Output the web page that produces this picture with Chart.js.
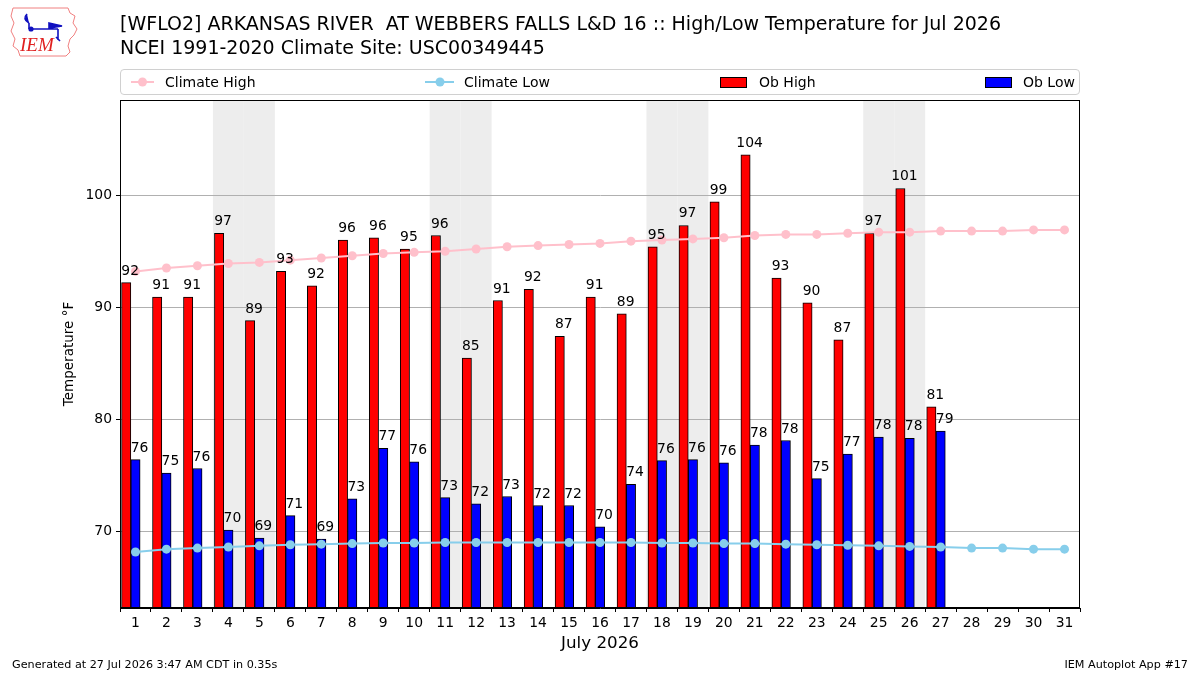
<!DOCTYPE html>
<html>
<head>
<meta charset="utf-8">
<script src="https://cdn.jsdelivr.net/npm/chart.js@4/dist/chart.umd.min.js"></script>
<style>
  html, body { margin: 0; padding: 0; background: #fff; }
  #wrap { position: relative; width: 1200px; height: 675px; overflow: hidden; font-family: "DejaVu Sans", sans-serif; color: #000; }
  #c { position: absolute; left: 0; top: 0; }
  .t { position: absolute; white-space: pre; line-height: 1; }
  #legend { position: absolute; left: 120px; top: 69px; width: 958px; height: 24px; border: 1px solid #d0d0d0; border-radius: 4px; background: #fff; }
  .li { position: absolute; top: 0; height: 24px; font-size: 14px; line-height: 24px; white-space: pre; }
</style>
</head>
<body>
<div id="wrap">
  <canvas id="c" width="1200" height="675"></canvas>
  <svg style="position:absolute;left:8px;top:4px" width="74" height="56" viewBox="0 0 74 56">
    <path d="M5 4 L60 4 L62 9 L67 12 L65 19 L69 25 L66 31 L62 35 L60 42 L62 48 L58 52 L12 52 L10 46 L5 42 L7 35 L3 27 L6 19 L3 12 Z" fill="none" stroke="#f08080" stroke-width="1"/>
    <path d="M19 10 q-5 5 2 9 M21 19 L21 25 M21 25 L50 25 M41 19 L54 22 L41 24 Z M50 25 L50 36 M48 33 L52 37" stroke="#1010c0" stroke-width="1.6" fill="#1010c0"/>
    <circle cx="23" cy="25" r="2.6" fill="#1010c0"/>
    <text x="12" y="47" font-family="Liberation Serif, serif" font-style="italic" font-size="19" fill="#e02020">IEM</text>
  </svg>
  <div class="t" style="left:120px;top:14px;font-size:19px;">[WFLO2] ARKANSAS RIVER  AT WEBBERS FALLS L&amp;D 16 :: High/Low Temperature for Jul 2026</div>
  <div class="t" style="left:120px;top:38px;font-size:19px;">NCEI 1991-2020 Climate Site: USC00349445</div>
  <div id="legend">
    <div class="li" style="left:10px;"><svg width="24" height="24" style="vertical-align:top"><line x1="0" y1="12" x2="23" y2="12" stroke="#FFC0CB" stroke-width="2"/><circle cx="11.5" cy="12" r="4.5" fill="#FFC0CB"/></svg></div>
    <div class="li" style="left:44px;">Climate High</div>
    <div class="li" style="left:304px;"><svg width="30" height="24" style="vertical-align:top"><line x1="0" y1="12" x2="29" y2="12" stroke="#87CEEB" stroke-width="2"/><circle cx="15" cy="12" r="4.5" fill="#87CEEB"/></svg></div>
    <div class="li" style="left:343px;">Climate Low</div>
    <div class="li" style="left:599px;"><svg width="28" height="24" style="vertical-align:top"><rect x="0.5" y="7.5" width="26" height="10" fill="#ff0000" stroke="#000" stroke-width="1"/></svg></div>
    <div class="li" style="left:638px;">Ob High</div>
    <div class="li" style="left:864px;"><svg width="28" height="24" style="vertical-align:top"><rect x="0.5" y="7.5" width="26" height="10" fill="#0000ff" stroke="#000" stroke-width="1"/></svg></div>
    <div class="li" style="left:902px;">Ob Low</div>
  </div>
  <div class="t" style="left:12px;top:659px;font-size:11.2px;">Generated at 27 Jul 2026 3:47 AM CDT in 0.35s</div>
  <div class="t" style="right:12px;top:659px;font-size:11.2px;">IEM Autoplot App #17</div>
</div>
<script>
const days = Array.from({length: 31}, (_, i) => i + 1);
const obsDays = days.slice(0, 27);
const obHigh = [92.2, 90.9, 90.9, 96.6, 88.8, 93.2, 91.9, 96.0, 96.2, 95.2, 96.4, 85.45, 90.6, 91.6, 87.4, 90.9, 89.4, 95.4, 97.3, 99.4, 103.6, 92.6, 90.4, 87.1, 96.6, 100.6, 81.1];
const obLow = [76.4, 75.2, 75.6, 70.1, 69.4, 71.4, 69.3, 72.9, 77.4, 76.2, 73.0, 72.45, 73.1, 72.3, 72.3, 70.4, 74.2, 76.3, 76.4, 76.1, 77.7, 78.1, 74.7, 76.9, 78.4, 78.3, 78.95];
const climateHigh = [93.2, 93.5, 93.7, 93.9, 94.0, 94.2, 94.4, 94.6, 94.8, 94.9, 95.0, 95.2, 95.4, 95.5, 95.6, 95.7, 95.9, 96.0, 96.1, 96.2, 96.4, 96.5, 96.5, 96.6, 96.7, 96.7, 96.8, 96.8, 96.8, 96.9, 96.9];
const climateLow = [68.15, 68.4, 68.5, 68.6, 68.7, 68.8, 68.85, 68.9, 68.95, 68.95, 69.0, 69.0, 69.0, 69.0, 69.0, 69.0, 69.0, 68.95, 68.95, 68.9, 68.9, 68.85, 68.8, 68.75, 68.7, 68.65, 68.6, 68.5, 68.5, 68.4, 68.4];
const yTicks = [70, 80, 90, 100];
const monthIndex = 6, year = 2026;

const HIGH_SHIFT = -0.3;
const FONT = '"DejaVu Sans", sans-serif';

const shadePlugin = {
  id: 'shade',
  beforeDraw(chart) {
    const {ctx, chartArea: a, scales: {x}} = chart;
    ctx.save();
    ctx.fillStyle = '#fff';
    ctx.fillRect(0, 0, chart.width, chart.height);
    ctx.fillStyle = '#ededed';
    days.forEach(d => {
      const wd = new Date(year, monthIndex, d).getDay();
      if (wd === 0 || wd === 6) {
        const x0 = x.getPixelForValue(d - 0.5), x1 = x.getPixelForValue(d + 0.5);
        ctx.fillRect(x0, a.top, x1 - x0, a.bottom - a.top);
      }
    });
    ctx.restore();
  },
  afterDatasetsDraw(chart) {
    const {ctx, chartArea: a} = chart;
    ctx.save();
    ctx.fillStyle = '#000';
    ctx.font = '13.9px ' + FONT;
    ctx.textAlign = 'center';
    ctx.textBaseline = 'alphabetic';
    [0, 1].forEach(di => {
      const meta = chart.getDatasetMeta(di);
      const vals = chart.data.datasets[di].data;
      meta.data.forEach((el, i) => {
        ctx.fillText(String(Math.round(vals[i].y)), el.x + 4, el.y - 8);
      });
    });
    ctx.strokeStyle = '#000';
    ctx.lineWidth = 1;
    ctx.strokeRect(Math.round(a.left) + 0.5, Math.round(a.top) + 0.5, Math.round(a.right - a.left) - 1, Math.round(a.bottom - a.top) - 1);
    ctx.restore();
  }
};

new Chart(document.getElementById('c'), {
  type: 'bar',
  data: {
    datasets: [
      {
        type: 'bar', label: 'Ob High', order: 2,
        data: obsDays.map((d, i) => ({x: d + HIGH_SHIFT, y: obHigh[i]})),
        backgroundColor: '#ff0000', borderColor: '#000', borderWidth: 1,
        grouped: false, barThickness: 9.3, base: 60
      },
      {
        type: 'bar', label: 'Ob Low', order: 2,
        data: obsDays.map((d, i) => ({x: d, y: obLow[i]})),
        backgroundColor: '#0000ff', borderColor: '#000', borderWidth: 1,
        grouped: false, barThickness: 9.3, base: 60
      },
      {
        type: 'line', label: 'Climate High', order: 0,
        data: days.map((d, i) => ({x: d, y: climateHigh[i]})),
        borderColor: '#FFC0CB', backgroundColor: '#FFC0CB', borderWidth: 2,
        pointRadius: 4.5, pointBorderWidth: 0, pointBackgroundColor: '#FFC0CB', tension: 0
      },
      {
        type: 'line', label: 'Climate Low', order: 0,
        data: days.map((d, i) => ({x: d, y: climateLow[i]})),
        borderColor: '#87CEEB', backgroundColor: '#87CEEB', borderWidth: 2,
        pointRadius: 4.5, pointBorderWidth: 0, pointBackgroundColor: '#87CEEB', tension: 0
      }
    ]
  },
  options: {
    responsive: false,
    animation: false,
    devicePixelRatio: 1,
    layout: { padding: { top: 100, right: 120, left: 0, bottom: 0 } },
    plugins: { legend: { display: false }, tooltip: { enabled: false }, title: { display: false } },
    scales: {
      x: {
        type: 'linear', min: 0.5, max: 31.5, offset: false,
        afterBuildTicks: s => { s.ticks = days.map(v => ({value: v})); },
        afterFit: s => { s.height = 67; },
        grid: { display: true, drawOnChartArea: false, drawTicks: true, tickLength: 4, tickColor: '#000' },
        border: { display: true, color: '#000', width: 1 },
        ticks: { color: '#000', font: { family: FONT, size: 13.9 }, padding: 3, maxRotation: 0, autoSkip: false, callback: v => String(v) },
        title: { display: true, text: 'July 2026', color: '#000', font: { family: FONT, size: 16.7 }, padding: { top: 4, bottom: 21 } }
      },
      y: {
        type: 'linear', min: 63.15, max: 108.5,
        afterBuildTicks: s => { s.ticks = yTicks.map(v => ({value: v})); },
        afterFit: s => { s.width = 120; },
        grid: { display: true, color: '#b0b0b0', lineWidth: 1, drawTicks: true, tickLength: 4, tickColor: '#000' },
        border: { display: true, color: '#000', width: 1 },
        ticks: { color: '#000', font: { family: FONT, size: 13.9 }, padding: 4, callback: v => String(v) },
        title: { display: true, text: 'Temperature °F', color: '#000', font: { family: FONT, size: 13.5 }, padding: { top: 61, bottom: 0 } }
      }
    }
  },
  plugins: [shadePlugin]
});
</script>
</body>
</html>
